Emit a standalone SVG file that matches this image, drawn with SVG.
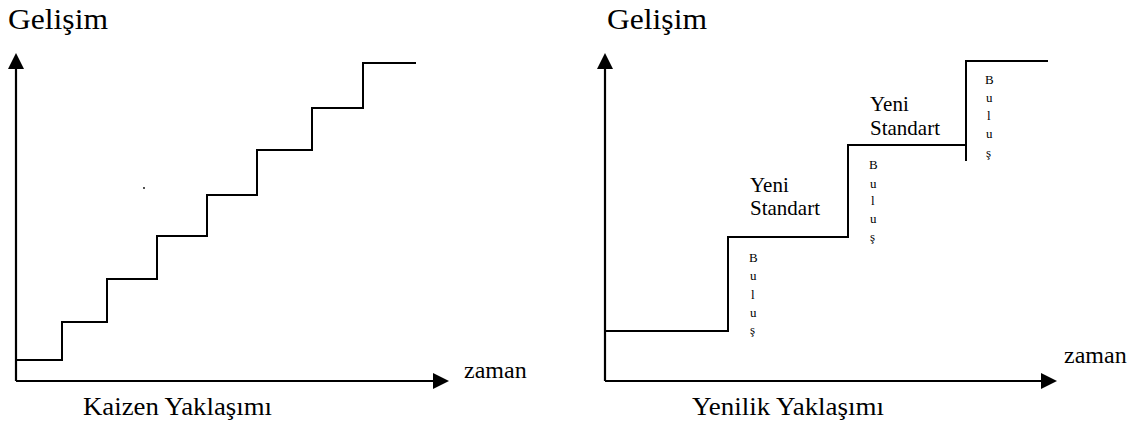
<svg xmlns="http://www.w3.org/2000/svg" width="1140" height="424" viewBox="0 0 1140 424">
<style>
  text { font-family: 'Liberation Serif', 'Times New Roman', serif; fill: #000; }
  .axis { stroke: #000; stroke-width: 2.2; fill: none; }
  .step { stroke: #000; stroke-width: 2; fill: none; }
  .title { font-size: 29px; }
  .cap { font-size: 26px; }
  .zaman { font-size: 24px; }
  .std { font-size: 21px; }
  .bl { font-size: 13px; }
</style>
<defs>
  <marker id="ah" markerUnits="userSpaceOnUse" markerWidth="16" markerHeight="16" refX="8" refY="8" orient="auto">
    <path d="M0,0 L16,8 L0,16 Z" fill="#000"/>
  </marker>
</defs>
<rect width="1140" height="424" fill="#fff"/>

<g id="connectors">
  <line class="axis" x1="16" y1="381" x2="16" y2="61" marker-end="url(#ah)"/>
  <line class="axis" x1="16" y1="381" x2="441" y2="381" marker-end="url(#ah)"/>
  <line class="axis" x1="605" y1="381" x2="605" y2="61" marker-end="url(#ah)"/>
  <line class="axis" x1="605" y1="381" x2="1049" y2="381" marker-end="url(#ah)"/>
</g>

<g id="kaizen-chart">
  <text class="title" x="8" y="29" textLength="100" lengthAdjust="spacingAndGlyphs">Gelişim</text>
  <polyline class="step" points="16,360 62,360 62,322 107,322 107,279 157,279 157,236 207,236 207,195 257,195 257,150 312,150 312,108 363,108 363,63 416,63"/>
  <circle cx="144" cy="188" r="0.9" fill="#000"/>
  <text class="zaman" x="464" y="378">zaman</text>
  <text class="cap" x="83" y="415" textLength="189" lengthAdjust="spacingAndGlyphs">Kaizen Yaklaşımı</text>
</g>

<g id="yenilik-chart">
  <text class="title" x="607" y="29" textLength="100" lengthAdjust="spacingAndGlyphs">Gelişim</text>
  <polyline class="step" points="605,331 728,331 728,237 848,237 848,145 966,145 966,61 1048,61"/>
  <line class="step" x1="966" y1="145" x2="966" y2="161"/>
  <text class="zaman" x="1064" y="363">zaman</text>
  <text class="cap" x="692" y="415" textLength="192" lengthAdjust="spacingAndGlyphs">Yenilik Yaklaşımı</text>
</g>

<g id="standart-1">
  <text class="std" x="750" y="192">Yeni</text>
  <text class="std" x="750" y="215">Standart</text>
</g>
<g id="standart-2">
  <text class="std" x="870" y="111">Yeni</text>
  <text class="std" x="870" y="135">Standart</text>
</g>

<g id="bulus-1">
  <text class="bl" x="749" y="262">B</text>
  <text class="bl" x="750" y="280">u</text>
  <text class="bl" x="751" y="298.5">l</text>
  <text class="bl" x="750" y="316.5">u</text>
  <text class="bl" x="750" y="334">ş</text>
</g>
<g id="bulus-2">
  <text class="bl" x="869" y="169">B</text>
  <text class="bl" x="870" y="187.5">u</text>
  <text class="bl" x="871" y="205">l</text>
  <text class="bl" x="870" y="222.5">u</text>
  <text class="bl" x="870" y="241">ş</text>
</g>
<g id="bulus-3">
  <text class="bl" x="985" y="84">B</text>
  <text class="bl" x="986" y="102">u</text>
  <text class="bl" x="987" y="120">l</text>
  <text class="bl" x="986" y="138">u</text>
  <text class="bl" x="986" y="157">ş</text>
</g>
</svg>
